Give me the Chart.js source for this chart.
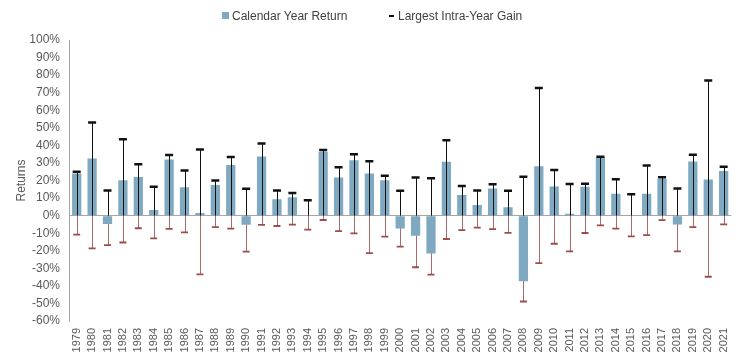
<!DOCTYPE html>
<html>
<head>
<meta charset="utf-8">
<script src="https://cdn.jsdelivr.net/npm/chart.js@4/dist/chart.umd.min.js"></script>
<style>
  html, body { margin: 0; padding: 0; background: #fff; }
  #wrap { position: relative; width: 744px; height: 356px; }
  canvas { display: block; }
  #legend { position: absolute; top: 9px; left: 0; width: 744px; height: 14px;
            font-family: 'Liberation Sans', Arial, sans-serif; font-size: 12px; color: #404040; }
  .li { position: absolute; top: 0; white-space: nowrap; line-height: 14px; }
  .sw { display: inline-block; vertical-align: middle; margin-right: 3px; position: relative; top: -1px; }
</style>
</head>
<body>
<div id="wrap">
  <canvas id="c" width="744" height="356"></canvas>
  <div id="legend"></div>
</div>
<script>
const years = ["1979","1980","1981","1982","1983","1984","1985","1986","1987","1988","1989","1990","1991","1992","1993",
  "1994","1995","1996","1997","1998","1999","2000","2001","2002","2003","2004","2005","2006","2007",
  "2008","2009","2010","2011","2012","2013","2014","2015","2016","2017","2018","2019","2020","2021"];

const calendarReturn = [24, 32.5, -4.7, 20.1, 22, 3.2, 32, 16.1, 1.5, 17.4, 28.8, -5.2, 33.6, 9.3, 10.4,
  0.3, 36.4, 21.7, 31.6, 24, 20.1, -7.4, -11.5, -21.5, 30.7, 11.8, 6.1, 15.5, 4.8,
  -37.4, 28.1, 16.6, 1, 16.4, 33.2, 12.4, 0, 12.4, 21, -5, 30.8, 20.5, 25.4];

const intraYearGain = [25, 53, 14.3, 43.5, 29.3, 16.5, 34.5, 25.7, 37.7, 20, 33.4, 15.3, 41, 14.3, 12.9,
  8.7, 37.4, 27.6, 35, 31, 22.7, 14.1, 21.7, 21.3, 42.9, 16.9, 14.3, 17.8, 14.1,
  22.2, 72.7, 26, 18, 18.2, 33.5, 20.7, 12.2, 28.6, 21.9, 15.5, 34.6, 76.9, 27.9];

const intraYearDecline = [-10.8, -18.6, -16.8, -15.3, -7.2, -12.9, -7.5, -9.5, -33.5, -6.6, -7.4, -20.5, -5.3, -5.9, -5.1,
  -8, -2.5, -8.8, -10.1, -21.3, -12, -17.7, -29.4, -33.6, -13.3, -8.2, -6.8, -7.7, -9.8,
  -48.9, -27, -16, -20.3, -9.9, -5.5, -7.4, -11.8, -11.1, -2.6, -20.4, -6.6, -34.8, -5];

const yTicks = [-60, -50, -40, -30, -20, -10, 0, 10, 20, 30, 40, 50, 60, 70, 80, 90, 100];

const FONT = "'Liberation Sans', Arial, sans-serif";
const BAR_COLOR = '#7FA8C1';
const GAIN_COLOR = '#111111';
const DECL_COLOR = '#9E4B4B';

const stems = {
  id: 'stems',
  beforeDatasetsDraw(chart) {
    const {ctx, scales: {x, y}} = chart;
    ctx.save();
    ctx.strokeStyle = '#A86A6A';
    ctx.lineWidth = 1;
    const y0 = y.getPixelForValue(0);
    intraYearDecline.forEach((v, i) => {
      const px = Math.round(x.getPixelForValue(i)) + 0.5;
      ctx.beginPath();
      ctx.moveTo(px, y0);
      ctx.lineTo(px, y.getPixelForValue(v));
      ctx.stroke();
    });
    ctx.restore();
  },
  afterDatasetsDraw(chart) {
    const {ctx, scales: {x, y}} = chart;
    ctx.save();
    ctx.strokeStyle = GAIN_COLOR;
    ctx.lineWidth = 1;
    const y0 = y.getPixelForValue(0);
    intraYearGain.forEach((v, i) => {
      const px = Math.round(x.getPixelForValue(i)) + 0.5;
      ctx.beginPath();
      ctx.moveTo(px, y0);
      ctx.lineTo(px, y.getPixelForValue(v));
      ctx.stroke();
    });
    ctx.restore();
  }
};

const chart = new Chart(document.getElementById('c'), {
  type: 'bar',
  data: {
    labels: years,
    datasets: [
      {
        type: 'line', label: 'Largest Intra-Year Gain', data: intraYearGain,
        showLine: false, pointStyle: 'line', pointRadius: 4, pointHoverRadius: 4,
        borderColor: GAIN_COLOR, backgroundColor: GAIN_COLOR, borderWidth: 2, pointBorderWidth: 2.5
      },
      {
        type: 'line', label: 'Largest Intra-Year Decline', data: intraYearDecline,
        showLine: false, pointStyle: 'line', pointRadius: 3.5, pointHoverRadius: 3.5,
        borderColor: DECL_COLOR, backgroundColor: DECL_COLOR, borderWidth: 1.5, pointBorderWidth: 1.8
      },
      {
        type: 'bar', label: 'Calendar Year Return', data: calendarReturn,
        backgroundColor: BAR_COLOR, barPercentage: 0.6, categoryPercentage: 1.0
      }
    ]
  },
  options: {
    responsive: false,
    animation: false,
    devicePixelRatio: 1,
    layout: { padding: { top: 40, right: 12, left: 0, bottom: 0 } },
    plugins: {
      legend: { display: false },
      tooltip: { enabled: false }
    },
    scales: {
      x: {
        grid: { display: false, drawTicks: false },
        border: { display: false },
        ticks: {
          autoSkip: false, minRotation: 90, maxRotation: 90, padding: 7,
          color: '#595959', font: { family: FONT, size: 11 }
        },
        afterFit(s) { s.height = 35; }
      },
      y: {
        min: -60, max: 100,
        afterBuildTicks(s) { s.ticks = yTicks.map(v => ({ value: v })); },
        ticks: {
          padding: 9, color: '#595959', font: { family: FONT, size: 12 },
          callback: v => v + '%'
        },
        grid: {
          drawTicks: false,
          color: c => (c.tick && c.tick.value === 0) ? '#A6A6A6' : 'rgba(0,0,0,0)',
          lineWidth: 1
        },
        border: { display: true, color: '#A6A6A6', width: 1 },
        title: {
          display: true, text: 'Returns', color: '#595959',
          font: { family: FONT, size: 12 }, padding: { top: 14, bottom: 0 }
        },
        afterFit(s) { s.width = 69; }
      }
    }
  },
  plugins: [stems]
});

// HTML legend built from the chart datasets
const legend = document.getElementById('legend');
const barDs = chart.data.datasets[2];
const gainDs = chart.data.datasets[0];
const items = [
  { ds: barDs, left: 222, sw: `<span class="sw" style="width:7px;height:7px;background:${BAR_COLOR}"></span>` },
  { ds: gainDs, left: 389, sw: `<span class="sw" style="width:5px;height:2px;background:${GAIN_COLOR};margin-right:4px"></span>` }
];
items.forEach(it => {
  const d = document.createElement('div');
  d.className = 'li';
  d.style.left = it.left + 'px';
  d.innerHTML = it.sw + '<span>' + it.ds.label + '</span>';
  legend.appendChild(d);
});
</script>
</body>
</html>
